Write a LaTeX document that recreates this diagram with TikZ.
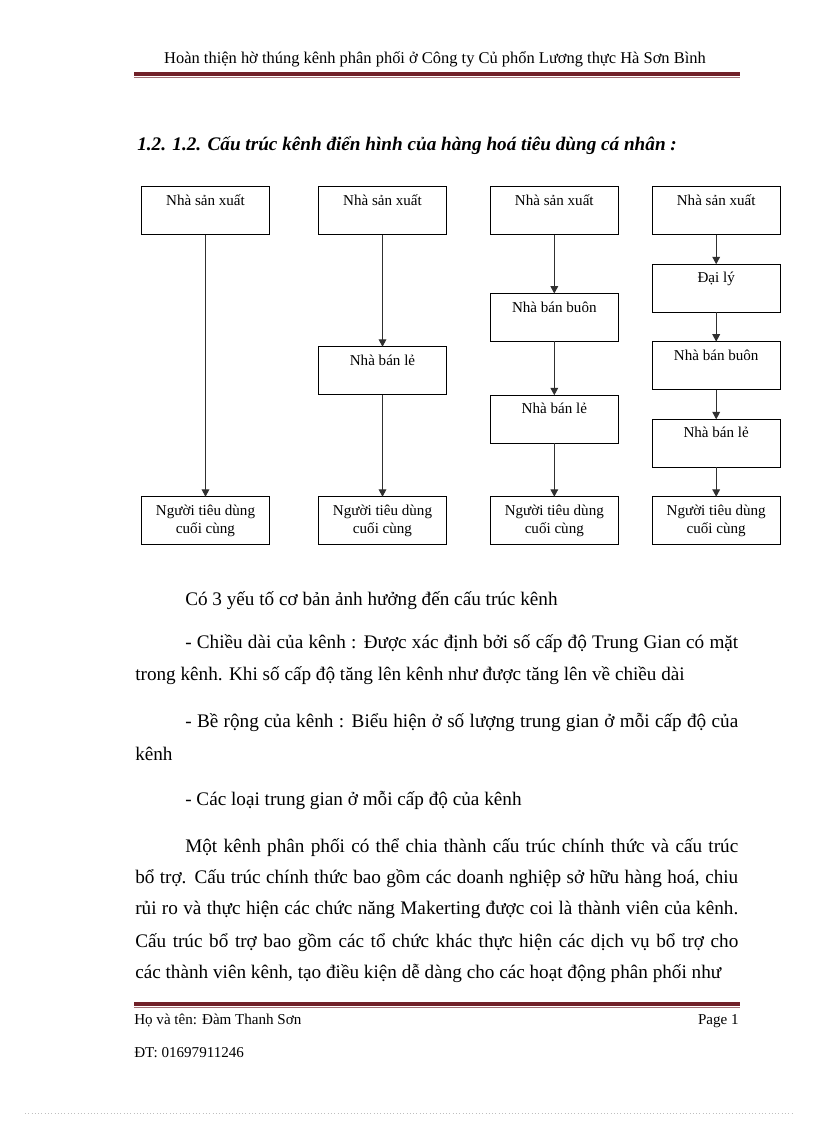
\documentclass[tikz,border=0pt]{standalone}
\usepackage{fontspec}
\setmainfont{Liberation Serif}
\usetikzlibrary{arrows.meta}
\definecolor{rulethick}{HTML}{702028}
\definecolor{rulethin}{HTML}{A07075}
\definecolor{linkgray}{HTML}{303030}
\tikzset{
  chbox/.style={draw=black,line width=0.75pt,minimum width=93.4pt,minimum height=35pt,inner sep=0pt,outer sep=0pt},
  boxtxt/.style={anchor=base,inner sep=0pt,font=\fontsize{11}{13}\selectfont},
  arr/.style={draw=linkgray,line width=0.8pt,-{Triangle[width=5.6pt,length=5.4pt]}},
  body/.style={anchor=base west,inner sep=0pt,font=\fontsize{14}{16}\selectfont},
  foot/.style={inner sep=0pt,font=\fontsize{11}{13}\selectfont},
}
\begin{document}
\begin{tikzpicture}[x=0.7295pt,y=-0.7295pt]
\useasboundingbox[fill=white] (0,0) rectangle (816,1123);
% header
\node[anchor=base,inner sep=0pt,font=\fontsize{12}{14}\selectfont] (hdr) at (435,63) {Hoàn thiện hờ thúng kênh phân phối ở Công ty Củ phổn Lương thực Hà Sơn Bình};
\draw[rulethick,line width=2.3pt] (134,74) -- (740,74);
\draw[rulethin,line width=0.7pt] (134,77.5) -- (740,77.5);
% title
\node[anchor=base west,inner sep=0pt,font=\fontsize{14}{16}\selectfont\bfseries\itshape] (title) at (137,150) {1.2. 1.2. Cấu trúc kênh điển hình của hàng hoá tiêu dùng cá nhân :};
% column 1
\node[chbox] (a1) at (205.5,210.7) {};
\node[chbox] (a2) at (205.5,520.7) {};
\node[boxtxt] (a1t) at (205.5,205.2) {Nhà sản xuất};
\node[boxtxt] (a2t) at (205.5,515.2) {Người tiêu dùng};
\node[boxtxt] (a2u) at (205.5,533.2) {cuối cùng};
\draw[arr] (a1) -- (a2);
% column 2
\node[chbox] (b1) at (382.5,210.7) {};
\node[chbox] (b2) at (382.5,370.7) {};
\node[chbox] (b3) at (382.5,520.7) {};
\node[boxtxt] (b1t) at (382.5,205.2) {Nhà sản xuất};
\node[boxtxt] (b2t) at (382.5,365.2) {Nhà bán lẻ};
\node[boxtxt] (b3t) at (382.5,515.2) {Người tiêu dùng};
\node[boxtxt] (b3u) at (382.5,533.2) {cuối cùng};
\draw[arr] (b1) -- (b2);
\draw[arr] (b2) -- (b3);
% column 3
\node[chbox] (c1) at (554.3,210.7) {};
\node[chbox] (c2) at (554.3,317.5) {};
\node[chbox] (c3) at (554.3,419.2) {};
\node[chbox] (c4) at (554.3,520.7) {};
\node[boxtxt] (c1t) at (554.3,205.2) {Nhà sản xuất};
\node[boxtxt] (c2t) at (554.3,312) {Nhà bán buôn};
\node[boxtxt] (c3t) at (554.3,413.7) {Nhà bán lẻ};
\node[boxtxt] (c4t) at (554.3,515.2) {Người tiêu dùng};
\node[boxtxt] (c4u) at (554.3,533.2) {cuối cùng};
\draw[arr] (c1) -- (c2);
\draw[arr] (c2) -- (c3);
\draw[arr] (c3) -- (c4);
% column 4
\node[chbox] (d1) at (716.2,210.7) {};
\node[chbox] (d2) at (716.2,288.2) {};
\node[chbox] (d3) at (716.2,365.6) {};
\node[chbox] (d4) at (716.2,443.3) {};
\node[chbox] (d5) at (716.2,520.7) {};
\node[boxtxt] (d1t) at (716.2,205.2) {Nhà sản xuất};
\node[boxtxt] (d2t) at (716.2,282.7) {Đại lý};
\node[boxtxt] (d3t) at (716.2,360.1) {Nhà bán buôn};
\node[boxtxt] (d4t) at (716.2,437.8) {Nhà bán lẻ};
\node[boxtxt] (d5t) at (716.2,515.2) {Người tiêu dùng};
\node[boxtxt] (d5u) at (716.2,533.2) {cuối cùng};
\draw[arr] (d1) -- (d2);
\draw[arr] (d2) -- (d3);
\draw[arr] (d3) -- (d4);
\draw[arr] (d4) -- (d5);
% body text
\node[body] (l1) at (185,605) {Có 3 yếu tố cơ bản ảnh hưởng đến cấu trúc kênh};
\node[body] (l2) at (185,648) {\makebox[403.4pt][s]{- Chiều dài của kênh : Được xác định bởi số cấp độ Trung Gian có mặt}};
\node[body] (l3) at (135,680) {trong kênh. Khi số cấp độ tăng lên kênh như được tăng lên về chiều dài};
\node[body] (l4) at (185,727) {\makebox[403.4pt][s]{- Bề rộng của kênh : Biểu hiện ở số lượng trung gian ở mỗi cấp độ của}};
\node[body] (l5) at (135,760) {kênh};
\node[body] (l6) at (185,805) {- Các loại trung gian ở mỗi cấp độ của kênh};
\node[body] (l7) at (185,852) {\makebox[403.4pt][s]{Một kênh phân phối có thể chia thành cấu trúc chính thức và cấu trúc}};
\node[body] (l8) at (135,883) {\makebox[439.9pt][s]{bổ trợ. Cấu trúc chính thức bao gồm các doanh nghiệp sở hữu hàng hoá, chiu}};
\node[body] (l9) at (135,914) {\makebox[439.9pt][s]{rủi ro và thực hiện các chức năng Makerting được coi là thành viên của kênh.}};
\node[body] (l10) at (135,947) {\makebox[439.9pt][s]{Cấu trúc bổ trợ bao gồm các tổ chức khác thực hiện các dịch vụ bổ trợ cho}};
\node[body] (l11) at (135,978) {các thành viên kênh, tạo điều kiện dễ dàng cho các hoạt động phân phối như};
% footer
\draw[rulethick,line width=2.3pt] (134,1004) -- (740,1004);
\draw[rulethin,line width=0.7pt] (134,1007.5) -- (740,1007.5);
\node[foot,anchor=base west] (f1) at (134,1024) {Họ và tên: Đàm Thanh Sơn};
\node[foot,anchor=base east] (f2) at (739,1024) {Page 1};
\node[foot,anchor=base west] (f3) at (134,1057) {ĐT: 01697911246};
\draw[gray!50,line width=0.4pt,dotted] (25,1113) -- (792,1113);
\end{tikzpicture}
\end{document}
